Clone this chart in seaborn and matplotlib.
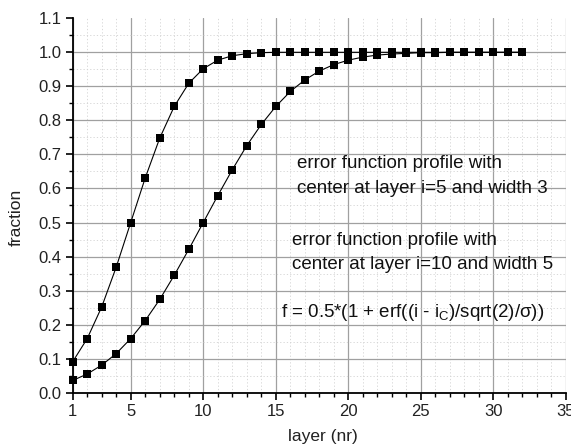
import matplotlib
matplotlib.use("Agg")
import matplotlib.pyplot as plt
import pandas as pd
import seaborn as sns
from matplotlib.ticker import MultipleLocator, FixedLocator

# values
layer = list(range(1, 33))
center5_width3 = [
    0.091, 0.159, 0.252, 0.369, 0.500, 0.631, 0.748, 0.841, 0.909, 0.952,
    0.977, 0.990, 0.996, 0.999, 1.0, 1.0, 1.0, 1.0, 1.0, 1.0,
    1.0, 1.0, 1.0, 1.0, 1.0, 1.0, 1.0, 1.0, 1.0, 1.0, 1.0, 1.0,
]
center10_width5 = [
    0.036, 0.055, 0.081, 0.115, 0.159, 0.212, 0.274, 0.345, 0.421, 0.500,
    0.579, 0.655, 0.726, 0.788, 0.841, 0.885, 0.919, 0.945, 0.964, 0.977,
    0.986, 0.992, 0.995, 0.997, 0.999, 0.999, 1.0, 1.0, 1.0, 1.0, 1.0, 1.0,
]
x_ticks = [1, 5, 10, 15, 20, 25, 30, 35]
label_5 = ["error function profile with", "center at layer i=5 and width 3"]
label_10 = ["error function profile with", "center at layer i=10 and width 5"]
formula = "f = 0.5*(1 + erf((i - i$_{\\mathrm{C}}$)/sqrt(2)/$\\sigma$))"

df = pd.concat([
    pd.DataFrame({"layer": layer, "fraction": center5_width3, "profile": "c5"}),
    pd.DataFrame({"layer": layer, "fraction": center10_width5, "profile": "c10"}),
], ignore_index=True)

sns.set_theme(style="white")
plt.rcParams["font.family"] = ["Liberation Sans", "DejaVu Sans"]
plt.rcParams["mathtext.fontset"] = "custom"
plt.rcParams["mathtext.rm"] = "Liberation Sans"
plt.rcParams["mathtext.it"] = "Liberation Sans"
plt.rcParams["mathtext.default"] = "regular"

fig = plt.figure(figsize=(5.71, 4.48), dpi=100)
ax = fig.add_axes([0.1273, 0.1234, 0.8639, 0.8358])

sns.lineplot(
    data=df, x="layer", y="fraction", hue="profile", style="profile",
    palette=["black", "black"], markers=["s", "s"], dashes=False,
    markersize=6.4, markeredgewidth=0, linewidth=0.8, legend=False,
    ax=ax, clip_on=False, zorder=5,
)

ax.set_xlim(1, 35)
ax.set_ylim(0, 1.1)
ax.xaxis.set_major_locator(FixedLocator(x_ticks))
ax.xaxis.set_minor_locator(MultipleLocator(1))
ax.yaxis.set_minor_locator(MultipleLocator(0.05))
ax.set_yticks([i / 10 for i in range(12)])
ax.set_yticklabels([f"{i / 10:.1f}" for i in range(12)])

ax.grid(which="major", color="#a0a0a0", linewidth=0.9, linestyle="-")
ax.grid(which="minor", color="#d2d2d2", linewidth=0.6, linestyle=(0, (1.5, 2.5)))
ax.yaxis.get_gridlines()[-1].set_visible(False)
ax.set_axisbelow(True)

for side in ["top", "right"]:
    ax.spines[side].set_visible(False)
for side in ["left", "bottom"]:
    ax.spines[side].set_color("black")
    ax.spines[side].set_linewidth(1.3)

ax.tick_params(which="major", direction="out", length=5, width=1.2,
               color="black", labelsize=12, labelcolor="#222222", pad=3)
ax.tick_params(which="minor", direction="out", length=3, width=1.0,
               color="black")
ax.tick_params(axis="x", which="both", bottom=True)
ax.tick_params(axis="y", which="both", left=True)

ax.set_xlabel("layer (nr)", fontsize=12.5, color="#222222")
ax.set_ylabel("fraction", fontsize=12.5, color="#222222")
ax.xaxis.set_label_coords(0.507, -0.097)
ax.yaxis.set_label_coords(-0.1, 0.468)

for i, line in enumerate(label_5):
    ax.text(16.45, 0.661 - i * 0.074, line, fontsize=13.5, color="#111111",
            ha="left", va="baseline")
for i, line in enumerate(label_10):
    ax.text(16.15, 0.434 - i * 0.071, line, fontsize=13.5, color="#111111",
            ha="left", va="baseline")
ax.text(15.37, 0.2235, formula, fontsize=13.5, color="#111111",
        ha="left", va="baseline")

fig.savefig("out.png", dpi=100)
